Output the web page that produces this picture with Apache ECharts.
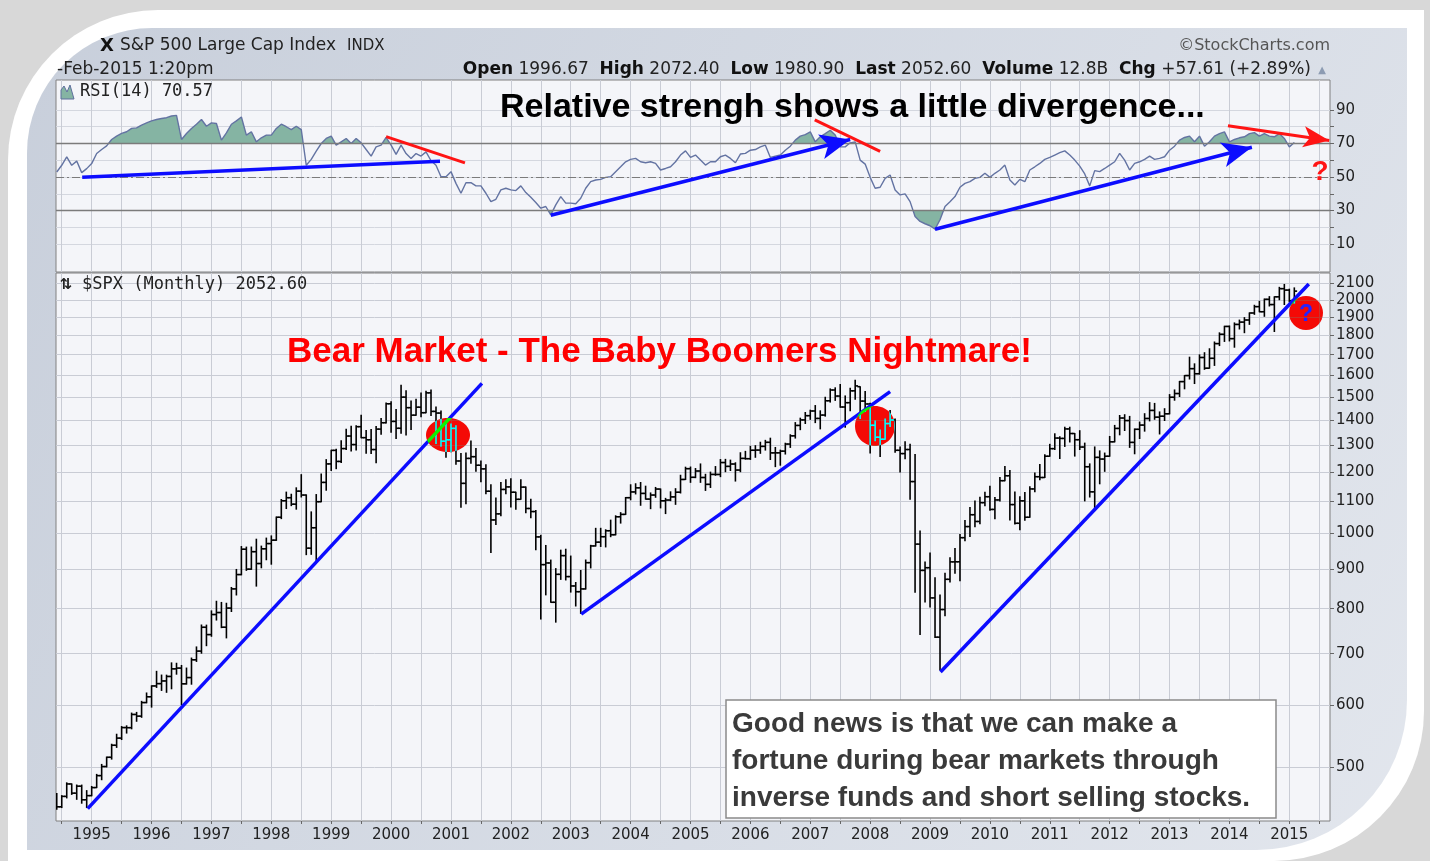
<!DOCTYPE html>
<html>
<head>
<meta charset="utf-8">
<script src="https://cdn.jsdelivr.net/npm/echarts@6/dist/echarts.min.js"></script>
<style>
  html, body { margin: 0; padding: 0; background: #d8d8d8; }
  #chart { width: 1430px; height: 861px; }
</style>
</head>
<body>
<div id="chart"></div>
<script>
// $SPX monthly bars, first bar = Jun 1994 (month index -7, Jan 1995 = 0)
const firstMonth = -7;

const open = [
  456.5, 444.3, 458.3, 475.5, 462.7, 472.4, 453.7,
  459.3, 470.4, 487.4, 500.7, 514.7, 533.4, 544.8, 562.1, 561.9, 584.4, 581.5, 605.4,
  615.9, 636.0, 640.4, 645.5, 654.2, 669.1, 670.6, 640.0, 652.0, 687.3, 705.3, 757.0,
  740.7, 786.2, 790.8, 757.1, 801.3, 848.3, 885.1, 954.3, 899.5, 947.3, 914.6, 955.4,
  970.4, 980.3, 1049.3, 1101.8, 1111.8, 1090.8, 1133.8, 1120.7, 957.3, 1017.0, 1098.7, 1163.6,
  1229.2, 1279.6, 1238.3, 1286.4, 1335.2, 1301.8, 1372.7, 1328.7, 1320.4, 1282.7, 1362.9, 1388.9,
  1469.3, 1394.5, 1366.4, 1498.6, 1452.4, 1420.6, 1454.6, 1430.8, 1517.7, 1436.5, 1429.4, 1315.0,
  1320.3, 1366.0, 1239.9, 1160.3, 1249.5, 1255.8, 1224.4, 1211.2, 1133.6, 1040.9, 1059.8, 1139.5,
  1148.1, 1130.2, 1106.7, 1147.4, 1076.9, 1067.1, 989.8, 911.6, 916.1, 815.3, 885.8, 936.3,
  879.8, 855.7, 841.2, 848.2, 916.9, 963.6, 974.5, 990.3, 1008.0, 996.0, 1050.7, 1058.2,
  1111.9, 1131.1, 1144.9, 1126.2, 1107.3, 1120.7, 1140.8, 1101.7, 1104.2, 1114.6, 1130.2, 1173.8,
  1211.9, 1181.3, 1203.6, 1180.6, 1156.9, 1191.5, 1191.3, 1234.2, 1220.3, 1228.8, 1207.0, 1249.5,
  1248.3, 1280.1, 1280.7, 1294.9, 1310.6, 1270.1, 1270.2, 1276.7, 1303.8, 1335.9, 1377.9, 1400.6,
  1418.3, 1438.2, 1406.8, 1420.9, 1482.4, 1530.6, 1503.4, 1455.3, 1474.0, 1526.8, 1545.8, 1481.1,
  1468.4, 1378.6, 1330.6, 1322.7, 1385.6, 1400.4, 1280.0, 1267.4, 1282.8, 1166.4, 968.8, 896.2,
  903.3, 825.9, 735.1, 797.9, 872.8, 919.1, 919.3, 987.5, 1020.6, 1057.1, 1036.2, 1095.6,
  1115.1, 1073.9, 1104.5, 1169.4, 1186.7, 1089.4, 1030.7, 1101.6, 1049.3, 1141.2, 1183.3, 1180.6,
  1257.6, 1286.1, 1327.2, 1325.8, 1363.6, 1345.2, 1320.6, 1292.3, 1218.9, 1131.4, 1253.3, 1247.0,
  1257.6, 1312.4, 1365.7, 1408.5, 1397.9, 1310.3, 1362.2, 1379.3, 1406.6, 1440.7, 1412.2, 1416.2,
  1426.2, 1498.1, 1514.7, 1569.2, 1597.6, 1630.7, 1606.3, 1685.7, 1633.0, 1681.6, 1756.5, 1805.8,
  1848.4, 1782.6, 1859.5, 1872.3, 1884.0, 1923.6, 1960.2, 1930.7, 2003.4, 1972.3, 2018.1, 2067.6,
  2058.9, 1996.7
];
const high = [
  462.1, 459.3, 477.1, 475.5, 474.0, 473.9, 466.2,
  472.0, 489.2, 503.9, 515.0, 535.0, 551.1, 563.8, 565.0, 586.8, 588.0, 607.6, 622.9,
  636.2, 664.2, 656.9, 656.7, 681.1, 680.3, 675.9, 670.7, 690.9, 714.1, 762.1, 761.8,
  794.7, 817.7, 814.9, 812.9, 851.9, 898.7, 961.8, 960.3, 960.5, 983.1, 963.1, 986.3,
  992.7, 1050.0, 1106.0, 1130.5, 1123.4, 1145.0, 1190.6, 1121.3, 1066.1, 1122.3, 1192.9, 1244.9,
  1280.0, 1283.8, 1316.6, 1362.8, 1375.0, 1376.8, 1420.3, 1357.0, 1361.4, 1373.2, 1407.0, 1473.0,
  1478.0, 1444.6, 1552.9, 1527.2, 1481.5, 1488.9, 1517.3, 1525.2, 1530.1, 1454.8, 1438.5, 1389.1,
  1383.4, 1376.4, 1267.4, 1269.3, 1316.0, 1286.6, 1239.8, 1226.3, 1155.4, 1110.6, 1163.4, 1173.0,
  1176.6, 1130.2, 1173.0, 1147.8, 1106.6, 1070.7, 994.5, 965.0, 924.0, 900.9, 951.6, 954.3,
  935.1, 864.6, 895.9, 924.2, 965.4, 1015.3, 1015.4, 1011.0, 1040.3, 1053.8, 1063.7, 1112.6,
  1155.4, 1158.9, 1163.2, 1150.6, 1127.7, 1146.3, 1140.8, 1109.7, 1131.5, 1142.1, 1188.5, 1217.3,
  1217.9, 1212.4, 1229.1, 1191.9, 1199.6, 1219.6, 1245.2, 1245.9, 1243.1, 1233.3, 1270.6, 1275.8,
  1294.9, 1297.6, 1310.9, 1318.2, 1326.7, 1290.7, 1280.4, 1307.0, 1340.3, 1389.5, 1407.9, 1431.8,
  1441.6, 1461.6, 1438.9, 1498.0, 1535.6, 1540.6, 1555.9, 1503.9, 1538.7, 1576.1, 1545.8, 1523.6,
  1471.8, 1396.0, 1359.7, 1404.6, 1440.2, 1404.1, 1292.2, 1313.2, 1303.0, 1264.3, 1007.5, 918.9,
  943.9, 877.0, 832.9, 888.7, 930.2, 956.2, 996.7, 1039.5, 1080.2, 1101.4, 1113.7, 1130.4,
  1150.5, 1112.4, 1180.2, 1219.8, 1205.1, 1131.2, 1115.0, 1129.2, 1148.9, 1196.1, 1227.1, 1262.6,
  1302.7, 1344.1, 1332.3, 1370.6, 1370.6, 1345.2, 1356.5, 1307.4, 1229.3, 1292.7, 1277.6, 1269.4,
  1333.5, 1378.0, 1419.2, 1422.4, 1415.3, 1363.5, 1391.7, 1426.7, 1474.5, 1470.9, 1434.3, 1448.0,
  1509.9, 1530.9, 1570.3, 1597.6, 1687.2, 1654.2, 1698.8, 1709.7, 1729.9, 1765.0, 1813.6, 1849.4,
  1850.8, 1867.9, 1883.6, 1897.3, 1924.0, 1968.2, 1991.4, 2005.0, 2019.3, 2018.2, 2075.8, 2093.6,
  2064.4, 2072.4
];
const low = [
  441.0, 443.3, 456.2, 461.0, 454.3, 449.1, 443.3,
  459.1, 470.4, 481.5, 500.2, 511.9, 530.0, 542.5, 553.0, 560.0, 572.7, 579.5, 605.0,
  597.3, 633.2, 627.6, 624.1, 630.7, 658.6, 601.8, 639.5, 639.3, 684.0, 700.9, 716.7,
  737.0, 773.4, 756.1, 733.5, 793.2, 833.1, 884.5, 896.2, 898.8, 855.3, 903.1, 924.9,
  912.8, 979.7, 1045.0, 1076.7, 1086.0, 1074.7, 1114.3, 939.0, 939.9, 923.3, 1098.7, 1136.9,
  1205.5, 1211.9, 1234.6, 1282.5, 1277.3, 1281.4, 1328.7, 1268.7, 1268.0, 1233.7, 1342.4, 1387.4,
  1350.1, 1325.1, 1346.6, 1339.4, 1361.1, 1420.6, 1413.9, 1430.8, 1419.4, 1305.8, 1294.9, 1254.1,
  1274.6, 1228.3, 1081.2, 1091.9, 1232.0, 1203.0, 1165.5, 1124.9, 944.8, 1026.8, 1054.3, 1124.7,
  1081.7, 1074.4, 1106.7, 1063.5, 1048.0, 952.9, 775.7, 833.4, 815.3, 768.6, 872.6, 871.1,
  840.3, 806.3, 788.9, 847.9, 902.8, 963.4, 962.1, 960.8, 990.4, 996.0, 1031.2, 1058.2,
  1105.1, 1124.4, 1087.2, 1107.2, 1076.3, 1113.3, 1078.8, 1060.7, 1102.2, 1090.2, 1127.6, 1173.8,
  1163.8, 1180.0, 1163.7, 1136.2, 1146.2, 1188.3, 1183.6, 1201.1, 1205.4, 1168.2, 1201.1, 1246.6,
  1245.7, 1253.6, 1268.4, 1280.7, 1245.3, 1219.3, 1224.5, 1265.7, 1290.9, 1327.1, 1360.6, 1385.9,
  1403.0, 1389.4, 1363.9, 1416.4, 1476.7, 1484.2, 1454.3, 1370.6, 1439.3, 1489.6, 1406.1, 1435.7,
  1270.1, 1316.8, 1256.9, 1322.7, 1373.1, 1272.0, 1200.4, 1248.5, 1106.4, 839.8, 741.0, 815.7,
  804.2, 734.5, 666.8, 783.3, 866.1, 888.9, 869.3, 978.5, 991.0, 1020.2, 1029.4, 1085.9,
  1071.6, 1044.5, 1101.4, 1169.4, 1040.8, 1028.3, 1010.9, 1039.7, 1049.3, 1131.9, 1173.0, 1180.6,
  1257.6, 1282.9, 1249.1, 1294.7, 1311.8, 1258.1, 1282.9, 1101.5, 1114.2, 1074.8, 1158.7, 1202.4,
  1257.6, 1312.4, 1340.0, 1357.4, 1291.0, 1266.7, 1325.4, 1354.7, 1396.6, 1403.3, 1343.4, 1398.1,
  1426.2, 1485.0, 1501.5, 1536.0, 1581.3, 1560.3, 1604.6, 1627.5, 1633.0, 1646.5, 1746.2, 1767.9,
  1770.5, 1737.9, 1834.4, 1814.4, 1859.8, 1915.9, 1930.7, 1904.8, 1964.0, 1820.7, 2001.0, 1972.6,
  1988.1, 1980.9
];
const close = [
  444.3, 458.3, 475.5, 462.7, 472.4, 453.7, 459.3,
  470.4, 487.4, 500.7, 514.7, 533.4, 544.8, 562.1, 561.9, 584.4, 581.5, 605.4, 615.9,
  636.0, 640.4, 645.5, 654.2, 669.1, 670.6, 640.0, 652.0, 687.3, 705.3, 757.0, 740.7,
  786.2, 790.8, 757.1, 801.3, 848.3, 885.1, 954.3, 899.5, 947.3, 914.6, 955.4, 970.4,
  980.3, 1049.3, 1101.8, 1111.8, 1090.8, 1133.8, 1120.7, 957.3, 1017.0, 1098.7, 1163.6, 1229.2,
  1279.6, 1238.3, 1286.4, 1335.2, 1301.8, 1372.7, 1328.7, 1320.4, 1282.7, 1362.9, 1388.9, 1469.3,
  1394.5, 1366.4, 1498.6, 1452.4, 1420.6, 1454.6, 1430.8, 1517.7, 1436.5, 1429.4, 1315.0, 1320.3,
  1366.0, 1239.9, 1160.3, 1249.5, 1255.8, 1224.4, 1211.2, 1133.6, 1040.9, 1059.8, 1139.5, 1148.1,
  1130.2, 1106.7, 1147.4, 1076.9, 1067.1, 989.8, 911.6, 916.1, 815.3, 885.8, 936.3, 879.8,
  855.7, 841.2, 848.2, 916.9, 963.6, 974.5, 990.3, 1008.0, 996.0, 1050.7, 1058.2, 1111.9,
  1131.1, 1144.9, 1126.2, 1107.3, 1120.7, 1140.8, 1101.7, 1104.2, 1114.6, 1130.2, 1173.8, 1211.9,
  1181.3, 1203.6, 1180.6, 1156.9, 1191.5, 1191.3, 1234.2, 1220.3, 1228.8, 1207.0, 1249.5, 1248.3,
  1280.1, 1280.7, 1294.9, 1310.6, 1270.1, 1270.2, 1276.7, 1303.8, 1335.9, 1377.9, 1400.6, 1418.3,
  1438.2, 1406.8, 1420.9, 1482.4, 1530.6, 1503.4, 1455.3, 1474.0, 1526.8, 1549.4, 1481.1, 1468.4,
  1378.6, 1330.6, 1322.7, 1385.6, 1400.4, 1280.0, 1267.4, 1282.8, 1166.4, 968.8, 896.2, 903.3,
  825.9, 735.1, 797.9, 872.8, 919.1, 919.3, 987.5, 1020.6, 1057.1, 1036.2, 1095.6, 1115.1,
  1073.9, 1104.5, 1169.4, 1186.7, 1089.4, 1030.7, 1101.6, 1049.3, 1141.2, 1183.3, 1180.6, 1257.6,
  1286.1, 1327.2, 1325.8, 1363.6, 1345.2, 1320.6, 1292.3, 1218.9, 1131.4, 1253.3, 1247.0, 1257.6,
  1312.4, 1365.7, 1408.5, 1397.9, 1310.3, 1362.2, 1379.3, 1406.6, 1440.7, 1412.2, 1416.2, 1426.2,
  1498.1, 1514.7, 1569.2, 1597.6, 1630.7, 1606.3, 1685.7, 1633.0, 1681.6, 1756.5, 1805.8, 1848.4,
  1782.6, 1859.5, 1872.3, 1884.0, 1923.6, 1960.2, 1930.7, 2003.4, 1972.3, 2018.1, 2067.6, 2058.9,
  1995.0, 2052.6
];

// RSI(14), same months
const rsi = [
  53, 57, 62, 57, 59.5, 52.6, 55,
  58, 64, 66.4, 68.6, 72.4, 74.4, 76, 77, 79, 79.3, 81, 82.3,
  83.5, 84.3, 84.9, 85.4, 86.4, 86.8, 72.4, 76, 79, 81.5, 84.3, 80.3,
  82.3, 81.9, 72, 76.3, 81.5, 83.5, 85.8, 75, 77, 71, 73.4, 75,
  75, 79, 81.5, 80, 78.3, 80.3, 78.3, 57, 60.5, 65.4, 70, 73,
  74.4, 69, 71, 73, 70, 73, 70.4, 66.4, 62.5, 68, 69, 73.6,
  69, 63.5, 69, 64, 61, 64, 62.5, 65, 59.7, 57, 50.2, 50.2,
  53.2, 46.2, 40.3, 46.6, 46.6, 44.7, 44.7, 40.3, 35.3, 36.7, 42.3, 43.3,
  42.3, 41.9, 44.7, 40.7, 37.9, 34.8, 31.4, 32.4, 27.4, 33.4, 38.3, 34.4,
  34.4, 34, 37.3, 43.3, 47.2, 48.2, 48.6, 49.8, 50.2, 53.2, 56.1, 59.1,
  60.5, 61.1, 59.1, 58.5, 59.1, 58.1, 54.2, 55.1, 56.1, 59.1, 63.1, 65.6,
  61.7, 63.1, 60.1, 57.1, 59.1, 59.1, 62.1, 63.1, 61.1, 58.5, 63.7, 64.1,
  66, 66.4, 68, 69, 61.7, 62.5, 63.1, 66, 68.4, 72, 74.4, 75.3,
  76.9, 71, 74, 75.9, 77.9, 75, 68, 68, 70.4, 71, 60.1, 57.7,
  49.8, 43.3, 43.9, 49.2, 51.2, 42.3, 39.3, 39.9, 35.3, 26.4, 23.5, 22.1,
  20.9, 18.9, 24.5, 32.4, 35.3, 38.3, 43.9, 46.2, 47.2, 49.2, 49.8, 52.2,
  49.8, 52.2, 54.2, 57.1, 48.2, 45.2, 48.6, 47.2, 54.2, 56.1, 58.1, 60.5,
  61.7, 63.1, 64.5, 65.6, 63.1, 60.1, 56.5, 51.8, 44.7, 53.8, 53.2, 55.1,
  57.1, 59.1, 64.1, 60.1, 54.2, 58.1, 59.1, 60.5, 62.5, 60.5, 61.1, 62.1,
  66, 68.4, 72, 73.6, 74.4, 71, 74.4, 68.4, 71, 74.4, 75.9, 76.9,
  71, 72.4, 73.4, 74, 75.9, 76.5, 74.4, 75.9, 74.4, 74, 75.9, 73,
  68, 70.57
];

const years = [1995, 1996, 1997, 1998, 1999, 2000, 2001, 2002, 2003, 2004, 2005,
  2006, 2007, 2008, 2009, 2010, 2011, 2012, 2013, 2014, 2015];
const priceTicks = [500, 600, 700, 800, 900, 1000, 1100, 1200, 1300, 1400, 1500,
  1600, 1700, 1800, 1900, 2000, 2100];
const rsiTicks = [10, 30, 50, 70, 90];
const rsiGrid = [10, 20, 30, 40, 50, 60, 70, 80, 90];

// hand drawn annotations, [month, value] pairs
const rsiTrendBlue = [[[-1.9, 49.8], [69.8, 59.4]]];
const rsiTrendRed = [[[59.0, 74.1], [74.8, 58.4]], [[144.9, 84.1], [158.0, 65.3]]];
const rsiArrowBlue = [[[92.0, 27.2], [152.0, 72.4]], [[169.0, 18.8], [232.5, 67.8]]];
const rsiArrowRed = [[[227.7, 80.6], [248.0, 71.8]]];
const priceTrend = [
  [[-0.8, 442], [78.2, 1561]],
  [[98.1, 787], [160.0, 1523]],
  [[170.1, 663], [243.9, 2096]]
];

const yearTicks = years.map(y => (y - 1995) * 12);
const halfYearTicks = yearTicks.flatMap(t => [t - 6, t]).concat([246]);
const rsiPoints = rsi.map((v, i) => [firstMonth + i, v]);
const bars = close.map((c, i) => [firstMonth + i, open[i], high[i], low[i], c]);

const segs = (list) => list.map(p => [{ coord: p[0] }, { coord: p[1] }]);

const chart = echarts.init(document.getElementById('chart'));

const txt = (text, x, y, font, fill, align, extra) => Object.assign({
  type: 'text', x: x, y: y, z: 30,
  style: {
    text: text, font: font, fill: fill || '#222',
    textAlign: align || 'left', align: align || 'left',
    textVerticalAlign: 'middle', verticalAlign: 'middle'
  }
}, extra || {});

const gridLine = { color: '#c9ccd5', width: 1 };
const xCommon = {
  type: 'value', min: -7.15, max: 248.15,
  axisLine: { show: false, onZero: false },
  splitLine: { show: true, lineStyle: gridLine }
};

chart.setOption({
  animation: false,
  backgroundColor: '#d8d8d8',
  grid: [
    { left: 56, top: 80, width: 1274, height: 192, show: true,
      backgroundColor: '#f4f5f9', borderColor: '#808080', borderWidth: 1 },
    { left: 56, top: 273, width: 1274, height: 548, show: true,
      backgroundColor: '#f4f5f9', borderColor: '#808080', borderWidth: 1 }
  ],
  xAxis: [
    Object.assign({ gridIndex: 0,
      axisTick: { show: false, customValues: halfYearTicks },
      axisLabel: { show: false } }, xCommon),
    Object.assign({ gridIndex: 1,
      axisTick: { show: true, customValues: halfYearTicks, length: 3, lineStyle: { color: '#666' } },
      axisLabel: {
        customValues: yearTicks, margin: 7, color: '#222',
        fontFamily: 'DejaVu Sans', fontSize: 15,
        formatter: v => String(1995 + v / 12)
      } }, xCommon)
  ],
  yAxis: [
    { gridIndex: 0, type: 'value', position: 'right', min: -6.7, max: 107.9,
      axisLine: { show: false, onZero: false },
      axisTick: { show: true, customValues: rsiGrid, length: 4, lineStyle: { color: '#666' } },
      axisLabel: { customValues: rsiTicks, margin: 6, color: '#222',
        fontFamily: 'DejaVu Sans', fontSize: 15 },
      splitLine: { show: true, lineStyle: { color: '#d4d7df' } } },
    { gridIndex: 1, type: 'log', logBase: 10, position: 'right', min: 426, max: 2166,
      axisLine: { show: false, onZero: false },
      axisTick: { show: true, customValues: priceTicks, length: 4, lineStyle: { color: '#666' } },
      axisLabel: { customValues: priceTicks, margin: 6, color: '#222',
        fontFamily: 'DejaVu Sans', fontSize: 15, formatter: v => String(Math.round(v)) },
      splitLine: { show: true, lineStyle: gridLine } }
  ],
  visualMap: {
    type: 'piecewise', show: false, seriesIndex: 0, dimension: 1,
    pieces: [
      { lt: 30, color: '#85b4a3' },
      { gte: 30, lte: 70, color: 'rgba(0,0,0,0)' },
      { gt: 70, color: '#85b4a3' }
    ]
  },
  series: [
    { name: 'rsiFill', type: 'line', xAxisIndex: 0, yAxisIndex: 0, data: rsiPoints,
      showSymbol: false, silent: true, z: 1,
      lineStyle: { width: 0 }, areaStyle: { origin: 50, opacity: 1 } },
    { name: 'rsiLevels', type: 'line', xAxisIndex: 0, yAxisIndex: 0, data: [], z: 2,
      markLine: { silent: true, symbol: ['none', 'none'], label: { show: false },
        data: [
          { yAxis: 70, lineStyle: { color: '#7b7b7b', width: 1.3, type: 'solid' } },
          { yAxis: 30, lineStyle: { color: '#7b7b7b', width: 1.3, type: 'solid' } },
          { yAxis: 50, lineStyle: { color: '#7b7b7b', width: 1.1, type: [8, 3, 2, 3] } }
        ] } },
    { name: 'RSI(14)', type: 'line', xAxisIndex: 0, yAxisIndex: 0, data: rsiPoints,
      showSymbol: false, silent: true, z: 3,
      lineStyle: { color: '#6373a2', width: 1.4 } },
    { name: 'rsiBlue', type: 'line', xAxisIndex: 0, yAxisIndex: 0, data: [], z: 5,
      markLine: { silent: true, symbol: ['none', 'none'], label: { show: false },
        lineStyle: { color: '#0c0cff', width: 3.5, type: 'solid' },
        data: segs(rsiTrendBlue) } },
    { name: 'rsiRed', type: 'line', xAxisIndex: 0, yAxisIndex: 0, data: [], z: 5,
      markLine: { silent: true, symbol: ['none', 'none'], label: { show: false },
        lineStyle: { color: '#ff1414', width: 3, type: 'solid' },
        data: segs(rsiTrendRed) } },
    { name: 'rsiBlueArrow', type: 'line', xAxisIndex: 0, yAxisIndex: 0, data: [], z: 5,
      markLine: { silent: true, symbol: ['none', 'arrow'], symbolSize: [19, 30], label: { show: false },
        lineStyle: { color: '#0c0cff', width: 3.5, type: 'solid' },
        data: segs(rsiArrowBlue) } },
    { name: 'rsiRedArrow', type: 'line', xAxisIndex: 0, yAxisIndex: 0, data: [], z: 5,
      markLine: { silent: true, symbol: ['none', 'arrow'], symbolSize: [16, 26], label: { show: false },
        lineStyle: { color: '#ff1414', width: 3, type: 'solid' },
        data: segs(rsiArrowRed) } },
    { name: '$SPX', type: 'custom', xAxisIndex: 1, yAxisIndex: 1, data: bars,
      encode: { x: 0, y: [1, 2, 3, 4] }, clip: true, silent: true, z: 3,
      renderItem: function (params, api) {
        const m = api.value(0);
        const o = api.coord([m, api.value(1)]);
        const h = api.coord([m, api.value(2)]);
        const l = api.coord([m, api.value(3)]);
        const c = api.coord([m, api.value(4)]);
        const st = { stroke: '#000', lineWidth: 1.6 };
        return { type: 'group', children: [
          { type: 'line', shape: { x1: h[0], y1: h[1] - 0.5, x2: l[0], y2: l[1] + 0.5 }, style: st },
          { type: 'line', shape: { x1: o[0] - 2.8, y1: o[1], x2: o[0], y2: o[1] }, style: st },
          { type: 'line', shape: { x1: c[0], y1: c[1], x2: c[0] + 2.8, y2: c[1] }, style: st }
        ] };
      } },
    { name: 'priceTrend', type: 'line', xAxisIndex: 1, yAxisIndex: 1, data: [], z: 5,
      markLine: { silent: true, symbol: ['none', 'none'], label: { show: false },
        lineStyle: { color: '#0c0cff', width: 3.5, type: 'solid' },
        data: segs(priceTrend) } }
  ],
  graphic: [
    { type: 'rect', z: -20, silent: true,
      shape: { x: 8, y: 10, width: 1416, height: 851, r: [150, 0, 150, 0] },
      style: { fill: '#ffffff' } },
    { type: 'rect', z: -10, silent: true,
      shape: { x: 27, y: 28, width: 1380, height: 822, r: [125, 0, 150, 0] },
      style: { fill: new echarts.graphic.LinearGradient(0, 0, 1, 1, [
        { offset: 0, color: '#c8cfdb' }, { offset: 1, color: '#e2e6ed' }]) } },

    txt('X', 100, 46, 'bold 18px "DejaVu Sans"', '#111'),
    txt('S&P 500 Large Cap Index', 120, 46, '17px "DejaVu Sans"', '#222'),
    txt('INDX', 347, 46, '15px "DejaVu Sans"', '#222'),
    txt('\u00a9StockCharts.com', 1330, 46, '16px "DejaVu Sans"', '#555', 'right'),
    txt('-Feb-2015 1:20pm', 57, 70, '17px "DejaVu Sans"', '#222'),
    { type: 'text', x: 1311, y: 70, z: 30,
      style: {
        text: '{b|Open} 1996.67  {b|High} 2072.40  {b|Low} 1980.90  {b|Last} 2052.60  {b|Volume} 12.8B  {b|Chg} +57.61 (+2.89%)',
        font: '17px "DejaVu Sans"', fill: '#222',
        textAlign: 'right', align: 'right', textVerticalAlign: 'middle', verticalAlign: 'middle',
        rich: { b: { font: 'bold 17px "DejaVu Sans"', fill: '#111' } }
      } },
    txt('\u25b2', 1322, 70, '10px "DejaVu Sans"', '#8c9bb2', 'center'),

    { type: 'polygon', z: 30, silent: true,
      shape: { points: [[61, 99], [61, 90], [64, 86], [67, 92], [70, 85], [74, 99]] },
      style: { fill: '#85b4a3', stroke: '#5f6f9e', lineWidth: 1 } },
    txt('RSI(14) 70.57', 80, 92, '17px "DejaVu Sans Mono"', '#222'),
    txt('\u21c5', 66, 285, 'bold 15px "DejaVu Sans"', '#222', 'center'),
    txt('$SPX (Monthly) 2052.60', 82, 285, '17px "DejaVu Sans Mono"', '#222'),

    txt('Relative strengh shows a little divergence...', 500, 108, 'bold 34px "Liberation Sans"', '#000'),
    txt('Bear Market - The Baby Boomers Nightmare!', 287, 352, 'bold 35px "Liberation Sans"', '#ff0000'),
    txt('?', 1320, 172, 'bold 28px "Liberation Sans"', '#ff1414', 'center'),

    // inverted highlight marks
    { type: 'ellipse', z: 50, silent: true, shape: { cx: 448, cy: 435, rx: 22, ry: 17 },
      style: { fill: '#00ffff', blend: 'difference' } },
    { type: 'ellipse', z: 50, silent: true, shape: { cx: 875, cy: 426, rx: 20, ry: 20 },
      style: { fill: '#00ffff', blend: 'difference' } },
    { type: 'circle', z: 50, silent: true, shape: { cx: 1306, cy: 313, r: 17 },
      style: { fill: '#00ffff', blend: 'difference' } },
    txt('?', 1306, 315, 'bold 23px "Liberation Sans"', '#2424ff', 'center', { z: 60 }),

    { type: 'rect', z: 40, silent: true,
      shape: { x: 726, y: 700, width: 550, height: 118 },
      style: { fill: '#ffffff', stroke: '#8a8a8a', lineWidth: 1.5 } },
    txt('Good news is that we can make a', 732, 724, 'bold 28px "Liberation Sans"', '#3a3a3a', 'left', { z: 45 }),
    txt('fortune during bear markets through', 732, 761, 'bold 28px "Liberation Sans"', '#3a3a3a', 'left', { z: 45 }),
    txt('inverse funds and short selling stocks.', 732, 798, 'bold 28px "Liberation Sans"', '#3a3a3a', 'left', { z: 45 })
  ]
});
</script>
</body>
</html>
